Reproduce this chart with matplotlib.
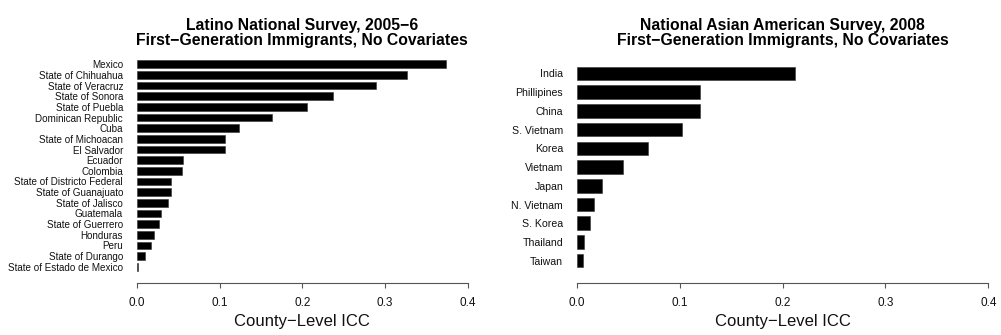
import matplotlib.pyplot as plt

plt.rcParams['font.family'] = ['Liberation Sans', 'DejaVu Sans']

# Latino National Survey, county-level ICC by origin
latino_labels = ['Mexico', 'State of Chihuahua', 'State of Veracruz', 'State of Sonora',
                 'State of Puebla', 'Dominican Republic', 'Cuba', 'State of Michoacan',
                 'El Salvador', 'Ecuador', 'Colombia', 'State of Districto Federal',
                 'State of Guanajuato', 'State of Jalisco', 'Guatemala', 'State of Guerrero',
                 'Honduras', 'Peru', 'State of Durango', 'State of Estado de Mexico']
latino_icc = [0.374, 0.326, 0.289, 0.237, 0.206, 0.163, 0.124, 0.107, 0.107, 0.056,
              0.055, 0.042, 0.042, 0.038, 0.029, 0.027, 0.021, 0.017, 0.010, 0.002]

# National Asian American Survey
asian_labels = ['India', 'Phillipines', 'China', 'S. Vietnam', 'Korea', 'Vietnam',
                'Japan', 'N. Vietnam', 'S. Korea', 'Thailand', 'Taiwan']
asian_icc = [0.212, 0.120, 0.120, 0.102, 0.069, 0.045, 0.025, 0.017, 0.013, 0.0068, 0.006]

xticks = [0.0, 0.1, 0.2, 0.3, 0.4]

W, H = 1001, 335
fig = plt.figure(figsize=(W / 100, H / 100), dpi=100)

ax_bottom = (H - 283) / H
ax_height = (283 - 55) / H


def panel(left_px, right_px, labels, vals, ylim, label_size, title):
    ax = fig.add_axes([left_px / W, ax_bottom, (right_px - left_px) / W, ax_height])
    pos = list(range(len(vals)))
    ax.barh(pos, vals, height=0.72, color='black', edgecolor='#333333', linewidth=0.4)
    ax.set_ylim(*ylim)
    ax.set_xlim(0, 0.4)
    ax.set_yticks(pos)
    ax.set_yticklabels(labels, fontsize=label_size, color='#111111')
    ax.tick_params(axis='y', length=0, pad=9.8)
    ax.set_xticks(xticks)
    ax.set_xticklabels(['%.1f' % t for t in xticks], fontsize=8.5, color='#111111')
    ax.tick_params(axis='x', length=3.4, width=0.8, color='#555555', pad=7)
    for s in ['top', 'right', 'left']:
        ax.spines[s].set_visible(False)
    ax.spines['bottom'].set_color('#555555')
    ax.spines['bottom'].set_linewidth(0.8)
    ax.spines['bottom'].set_bounds(0, 0.4)
    ax.set_xlabel('County\u2212Level ICC', fontsize=12, color='#111111', labelpad=3)
    ax.set_title(title, fontsize=11.3, fontweight='bold', pad=7.5, linespacing=1.0)
    return ax


panel(136.7, 468, latino_labels, latino_icc, (20.53, -0.87), 7.1,
      'Latino National Survey, 2005\u22126\nFirst\u2212Generation Immigrants, No Covariates')
panel(576.7, 988.3, asian_labels, asian_icc, (11.19, -0.98), 7.6,
      'National Asian American Survey, 2008\nFirst\u2212Generation Immigrants, No Covariates')

fig.savefig('out.png', dpi=100)
